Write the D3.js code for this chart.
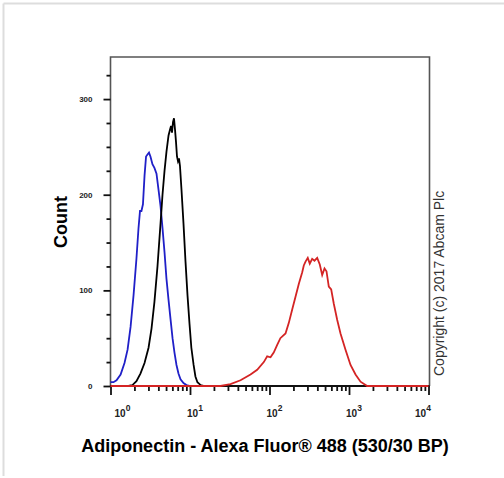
<!DOCTYPE html>
<html>
<head>
<meta charset="utf-8">
<script src="https://cdn.jsdelivr.net/npm/d3@7/dist/d3.min.js"></script>
<style>
  body { margin: 0; background: #fff; }
  svg { display: block; font-family: "Liberation Sans", Arial, sans-serif; }
</style>
</head>
<body>
<svg id="chart" width="504" height="478"></svg>
<script>
// histogram data: [intensity, count]
var blueData = [[1.00,4],[1.09,4],[1.19,6],[1.34,12],[1.50,24],[1.64,38],[1.79,62],[1.95,95],[2.12,133],
  [2.25,165],[2.35,183],[2.45,183],[2.56,190],[2.68,220],[2.80,240],[2.92,242],[3.05,244],[3.18,240],
  [3.37,232],[3.57,228],[3.79,222],[4.02,205],[4.26,188],[4.51,165],[4.78,140],[5.06,112],[5.37,90],
  [5.69,70],[6.03,50],[6.38,35],[6.76,22],[7.16,13],[7.60,7],[8.28,3],[9.04,1],[10.1,0]];

var blackData = [[1.68,0],[1.89,1],[2.12,5],[2.38,13],[2.68,24],[3.01,40],[3.28,60],[3.57,88],[3.90,125],
  [4.26,170],[4.51,200],[4.78,225],[5.06,245],[5.37,262],[5.60,268],[5.77,272],[5.94,265],[6.11,276],
  [6.29,280],[6.48,268],[6.67,255],[6.86,240],[7.06,235],[7.27,238],[7.48,230],[7.82,205],[8.28,170],
  [8.78,130],[9.30,95],[9.86,65],[10.4,40],[11.1,22],[11.7,10],[12.4,4],[13.6,1],[15.2,0]];

var redData = [[1,0],[24.2,0],[32.3,2],[43.2,6],[57.7,12],[70.0,17],[84.8,25],[93.5,31],[103,30],[113,35],
  [125,43],[137,50],[159,55],[175,66],[193,80],[212,93],[234,107],[258,119],[270,126],[284,130],
  [303,134],[321,128],[344,133],[368,131],[398,134],[429,127],[460,116],[492,123],[521,120],[557,104],
  [597,101],[644,86],[711,69],[782,55],[904,38],[1045,22],[1208,12],[1396,4.5],[1694,0],[10000,0]];

var xMajors = [1, 10, 100, 1000, 10000];
var yMajors = [0, 100, 200, 300];
var xTitle = "Adiponectin - Alexa Fluor\u00ae 488 (530/30 BP)";
var yTitle = "Count";
var copyright = "Copyright (c) 2017 Abcam Plc";

var svg = d3.select("#chart");

// page border (light gray, top and left)
svg.append("line").attr("x1", 3.5).attr("y1", 3.5).attr("x2", 504).attr("y2", 3.5)
    .attr("stroke", "#ddd").attr("stroke-width", 2);
svg.append("line").attr("x1", 3.5).attr("y1", 3.5).attr("x2", 3.5).attr("y2", 476)
    .attr("stroke", "#ddd").attr("stroke-width", 2);

var x = d3.scaleLog().domain([1, 10000]).range([110.5, 428.5]);
var y = d3.scaleLinear().domain([0, 344]).range([386, 57]);

// frame
svg.append("path")
    .attr("d", "M110.5,386V57H429.5V386")
    .attr("fill", "none").attr("stroke", "#555").attr("stroke-width", 1.6);

// x axis
var xMinors = [];
for (var e = 0; e < 4; e++) {
  for (var m = 2; m < 10; m++) xMinors.push(m * Math.pow(10, e));
}
var xg = svg.append("g").attr("transform", "translate(0,386)");
xg.call(d3.axisBottom(x).tickValues(xMajors).tickSize(9).tickFormat(""));
xg.select(".domain").remove();
var xg2 = svg.append("g").attr("transform", "translate(0,386)");
xg2.call(d3.axisBottom(x).tickValues(xMinors).tickSize(5).tickFormat(""));
xg2.select(".domain").remove();
svg.selectAll("g.tick line").attr("stroke", "#111").attr("stroke-width", 1.8);
svg.append("line").attr("x1", 110).attr("x2", 429.5).attr("y1", 386).attr("y2", 386)
    .attr("stroke", "#111").attr("stroke-width", 2);

// x labels 10^n
var labelShift = [4, -3, -3, -3, -13.5];
xMajors.forEach(function(v, i) {
  var t = svg.append("text").attr("x", x(v) + labelShift[i]).attr("y", 417)
      .attr("font-size", 10).attr("font-weight", "bold").attr("fill", "#222");
  t.append("tspan").text("10");
  t.append("tspan").attr("dy", -6).attr("font-size", 8.5).text(Math.round(Math.log10(v)));
});

// y axis
var yMinors = d3.range(25, 344, 25).filter(d => d % 100 !== 0);
var yg = svg.append("g").attr("transform", "translate(110.5,0)");
yg.call(d3.axisLeft(y).tickValues(yMajors).tickSize(7).tickPadding(11).tickFormat(d3.format("d")));
yg.select(".domain").remove();
yg.selectAll("line").attr("stroke", "#111").attr("stroke-width", 1.8);
yg.selectAll("text").attr("font-size", 8).attr("font-weight", "bold").attr("fill", "#222")
    .attr("font-family", "Liberation Sans, Arial, sans-serif");
var yg2 = svg.append("g").attr("transform", "translate(110.5,0)");
yg2.call(d3.axisLeft(y).tickValues(yMinors).tickSize(4).tickFormat(""));
yg2.select(".domain").remove();
yg2.selectAll("line").attr("stroke", "#111").attr("stroke-width", 1.8);

// curves
var line = d3.line().x(d => x(d[0])).y(d => y(d[1]));
svg.append("path").datum(blueData).attr("d", line)
    .attr("fill", "none").attr("stroke", "#2020c8").attr("stroke-width", 1.8);
svg.append("path").datum(blackData).attr("d", line)
    .attr("fill", "none").attr("stroke", "#000").attr("stroke-width", 1.8);
svg.append("path").datum(redData).attr("d", line)
    .attr("fill", "none").attr("stroke", "#d42424").attr("stroke-width", 1.8);

// titles
svg.append("text").attr("x", 265).attr("y", 452).attr("text-anchor", "middle")
    .attr("font-size", 18).attr("font-weight", "bold").attr("fill", "#000").text(xTitle);
svg.append("text").attr("transform", "translate(67,222) rotate(-90)").attr("text-anchor", "middle")
    .attr("font-size", 18).attr("font-weight", "bold").attr("fill", "#000").text(yTitle);
svg.append("text").attr("transform", "translate(444,376) rotate(-90)").attr("text-anchor", "start")
    .attr("font-size", 14).attr("fill", "#333").text(copyright);
</script>
</body>
</html>
